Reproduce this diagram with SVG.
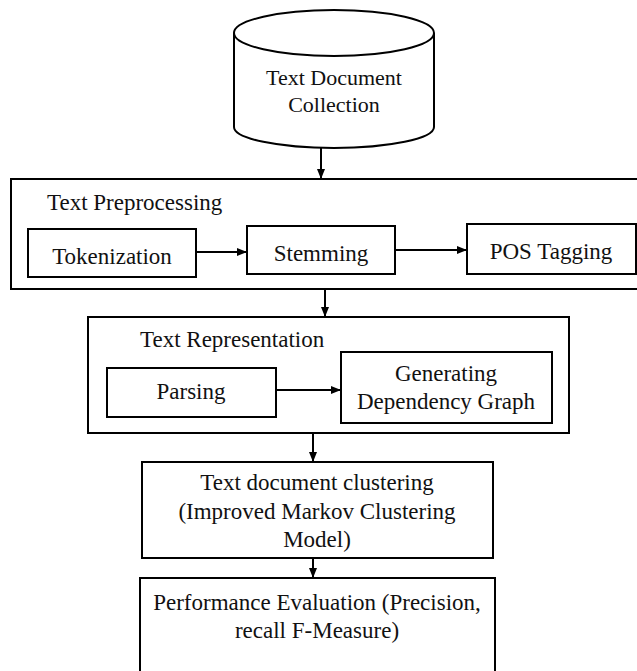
<svg xmlns="http://www.w3.org/2000/svg" width="637" height="671" viewBox="0 0 637 671">
<style>
.b{fill:#fff;stroke:#000;stroke-width:2}
.t{font-family:"Liberation Serif","Times New Roman",serif;font-size:23px;fill:#111}
.s{font-size:22px}
.c{text-anchor:middle}
.l{stroke:#000;stroke-width:2;fill:none}
</style>
<defs>
<marker id="ah" markerWidth="10" markerHeight="10" refX="9" refY="5" orient="auto" markerUnits="userSpaceOnUse">
<path d="M0,1 L10,5 L0,9 Z" fill="#000"/>
</marker>
</defs>
<rect width="637" height="671" fill="#fff"/>
<g id="cylinder">
<path class="b" d="M234,33 L234,127 A100,21 0 0 0 434,127 L434,33"/>
<ellipse class="b" cx="334" cy="33" rx="100" ry="23"/>
<text class="t s c" x="334" y="85">Text Document</text>
<text class="t s c" x="334" y="112">Collection</text>
</g>
<g id="preprocessing">
<rect class="b" x="11" y="179" width="632" height="110"/>
<text class="t" x="47" y="210">Text Preprocessing</text>
</g>
<g id="tokenization">
<rect class="b" x="28" y="229" width="168" height="48"/>
<text class="t c" x="112" y="264">Tokenization</text>
</g>
<g id="stemming">
<rect class="b" x="247" y="226" width="148" height="48"/>
<text class="t c" x="321" y="261">Stemming</text>
</g>
<g id="pos">
<rect class="b" x="467" y="224" width="169" height="50"/>
<text class="t c" x="551" y="259">POS Tagging</text>
</g>
<g id="representation">
<rect class="b" x="88" y="317" width="481" height="116"/>
<text class="t" x="140" y="347">Text Representation</text>
</g>
<g id="parsing">
<rect class="b" x="107" y="368" width="169" height="49"/>
<text class="t c" x="191" y="399">Parsing</text>
</g>
<g id="graph">
<rect class="b" x="341" y="352" width="211" height="71"/>
<text class="t c" x="446" y="381">Generating</text>
<text class="t c" x="446" y="409">Dependency Graph</text>
</g>
<g id="clustering">
<rect class="b" x="142" y="462" width="351" height="96"/>
<text class="t c" x="317" y="490">Text document clustering</text>
<text class="t c" x="317" y="519">(Improved Markov Clustering</text>
<text class="t c" x="317" y="547">Model)</text>
</g>
<g id="evaluation">
<rect class="b" x="140" y="578" width="355" height="110"/>
<text class="t c" x="317" y="610">Performance Evaluation (Precision,</text>
<text class="t c" x="317" y="638">recall F-Measure)</text>
</g>
<g id="connectors">
<line class="l" x1="321" y1="148" x2="321" y2="178" marker-end="url(#ah)"/>
<line class="l" x1="196" y1="252" x2="246" y2="252" marker-end="url(#ah)"/>
<line class="l" x1="395" y1="250" x2="466" y2="250" marker-end="url(#ah)"/>
<line class="l" x1="325" y1="289" x2="325" y2="316" marker-end="url(#ah)"/>
<line class="l" x1="276" y1="390" x2="340" y2="390" marker-end="url(#ah)"/>
<line class="l" x1="313" y1="433" x2="313" y2="461" marker-end="url(#ah)"/>
<line class="l" x1="313" y1="558" x2="313" y2="577" marker-end="url(#ah)"/>
</g>
</svg>
